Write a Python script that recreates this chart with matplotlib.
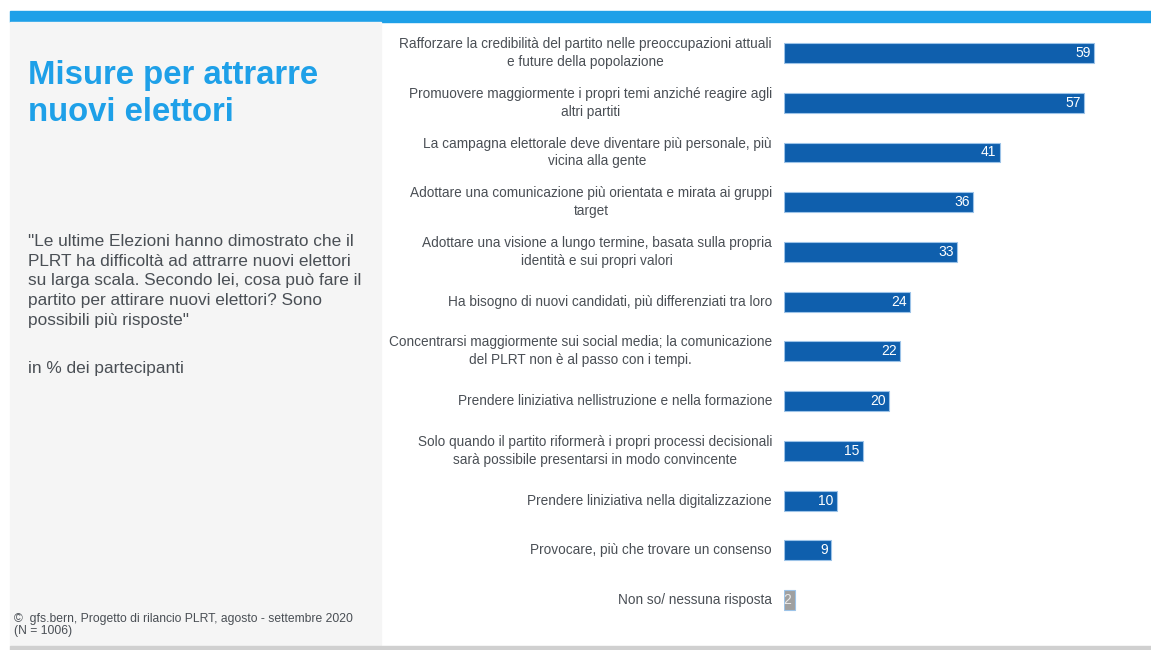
import matplotlib.pyplot as plt
from matplotlib.patches import Rectangle

# dati
categorie = [
    "Rafforzare la credibilità del partito nelle preoccupazioni attuali\ne future della popolazione",
    "Promuovere maggiormente i propri temi anziché reagire agli\naltri partiti",
    "La campagna elettorale deve diventare più personale, più\nvicina alla gente",
    "Adottare una comunicazione più orientata e mirata ai gruppi\ntarget",
    "Adottare una visione a lungo termine, basata sulla propria\nidentità e sui propri valori",
    "Ha bisogno di nuovi candidati, più differenziati tra loro",
    "Concentrarsi maggiormente sui social media; la comunicazione\ndel PLRT non è al passo con i tempi.",
    "Prendere liniziativa nellistruzione e nella formazione",
    "Solo quando il partito riformerà i propri processi decisionali\nsarà possibile presentarsi in modo convincente",
    "Prendere liniziativa nella digitalizzazione",
    "Provocare, più che trovare un consenso",
    "Non so/ nessuna risposta",
]
valori = [59, 57, 41, 36, 33, 24, 22, 20, 15, 10, 9, 2]

BLU = "#0F5FAD"
GRIGIO = "#A0A0A0"
TESTO = "#4A4F55"
AZZURRO = "#1EA0E8"

plt.rcParams['font.family'] = ['Liberation Sans', 'DejaVu Sans']

W, H = 1151, 650
fig = plt.figure(figsize=(W / 100, H / 100), dpi=100)

# sfondo: banda azzurra, pannello grigio, linea in basso
fig.patches.append(Rectangle((10 / W, 1 - 22 / H), 1, 11 / H, transform=fig.transFigure,
                             color=AZZURRO, zorder=0))
fig.patches.append(Rectangle((10 / W, 4 / H), 371 / W, 624 / H, transform=fig.transFigure,
                             color="#F5F5F5", zorder=0))
fig.patches.append(Rectangle((10 / W, 0), 1, 4 / H, transform=fig.transFigure,
                             color="#D0D0D0", zorder=0))

# testi a sinistra
fig.text(28 / W, 1 - 94 / H, "Misure per attrarre\nnuovi elettori", color=AZZURRO,
         fontsize=23.7, fontweight="bold", va="center", ha="left", linespacing=1.27)
fig.text(28 / W, 1 - 281 / H,
         "\"Le ultime Elezioni hanno dimostrato che il\nPLRT ha difficoltà ad attrarre nuovi elettori\n"
         "su larga scala. Secondo lei, cosa può fare il\npartito per attirare nuovi elettori? Sono\n"
         "possibili più risposte\"",
         color=TESTO, fontsize=12.4, va="center", ha="left", linespacing=1.38)
fig.text(28 / W, 1 - 369 / H, "in % dei partecipanti", color=TESTO, fontsize=12.4,
         va="center", ha="left")
fig.text(14 / W, 1 - 625 / H, "©  gfs.bern, Progetto di rilancio PLRT, agosto - settembre 2020\n(N = 1006)",
         color=TESTO, fontsize=8.7, va="center", ha="left", linespacing=1.1)

# grafico a barre
passo = 49.73
ax = fig.add_axes([784 / W, (650 - 53 - 11.5 * passo) / H, 368 / W, 12 * passo / H])
ax.set_xlim(0, 70)
ax.set_ylim(11.5, -0.5)
ax.axis("off")
ax.patch.set_alpha(0)

colori = [BLU] * (len(valori) - 1) + [GRIGIO]
ax.barh(range(len(valori)), valori, height=0.4, color=colori,
        edgecolor="#9CC3E8", linewidth=0.8)

for i, (cat, v) in enumerate(zip(categorie, valori)):
    ax.text(-2.3, i, cat, ha="right", va="center", multialignment="center",
            fontsize=9.8, color=TESTO, linespacing=1.35)
    ax.text(v - 0.6, i, str(v), ha="right", va="center", fontsize=10,
            color="white" if v > 2 else "#E8E8E8")

fig.savefig("out.png", dpi=100)
